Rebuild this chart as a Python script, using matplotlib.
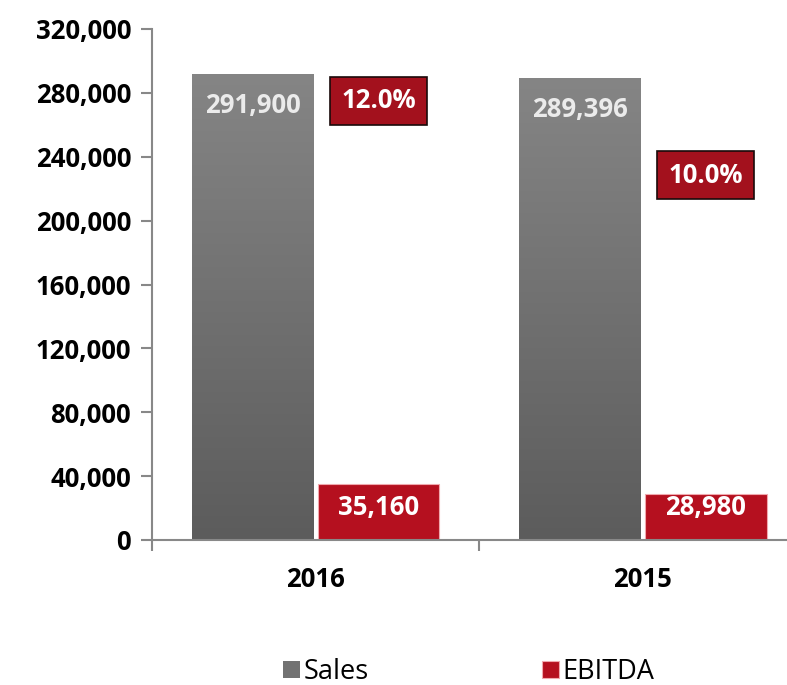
import matplotlib
matplotlib.use("Agg")
import matplotlib.pyplot as plt
import numpy as np

years = ["2016", "2015"]
sales = [291900, 289396]
ebitda = [35160, 28980]
margin_labels = ["12.0%", "10.0%"]
margin_pos = [275000, 228500]  # visual position of the margin labels on the value axis
yticks = [0, 40000, 80000, 120000, 160000, 200000, 240000, 280000, 320000]

plt.rcParams['font.family'] = ['Open Sans', 'DejaVu Sans']

W, H = 787, 685
fig = plt.figure(figsize=(W / 100, H / 100), dpi=100)
left, right, bottom, top = 152, 787, 540, 29
ax = fig.add_axes([left / W, 1 - bottom / H, (right - left) / W, (bottom - top) / H])

cat_px = 327.0
x = np.arange(len(years))
bw = 122 / cat_px
gap = 2 / cat_px

sales_bars = ax.bar(x - bw / 2 - gap, sales, bw, color='#727272', label='Sales', zorder=2)
ebitda_bars = ax.bar(x + bw / 2 + gap, ebitda, bw, color='#B5101F', edgecolor='#F0A8AE',
                     linewidth=0.8, label='EBITDA', zorder=2)

# gradient on sales bars
grad = np.linspace(0, 1, 256).reshape(-1, 1)
cmap = matplotlib.colors.LinearSegmentedColormap.from_list('g', ['#5C5C5C', '#858585'])
for b in sales_bars:
    bx, by = b.get_x(), b.get_y()
    im = ax.imshow(grad, extent=[bx, bx + b.get_width(), by, by + b.get_height()],
                   origin='lower', cmap=cmap, aspect='auto', zorder=2.5)
    im.set_clip_path(b)
ax.set_aspect('auto')

# labels
for i in range(len(years)):
    ax.text(x[i] - bw / 2 - gap, sales[i] - 20000, f"{sales[i]:,}", ha='center', va='center',
            fontsize=18.5, fontweight='bold', color='#EBEBEB', zorder=4)
    ax.text(x[i] + bw / 2 + gap, 20500, f"{ebitda[i]:,}", ha='center', va='center',
            fontsize=18.5, fontweight='bold', color='white', zorder=4)
    ax.text(x[i] + bw / 2 + gap, margin_pos[i], margin_labels[i], ha='center', va='center',
            fontsize=18.5, fontweight='bold', color='white', zorder=4,
            bbox=dict(boxstyle='square,pad=0.42', fc='#A3111D', ec='#1A0A0A', lw=1.2))

for s in ['top', 'right']:
    ax.spines[s].set_visible(False)
for s in ['left', 'bottom']:
    ax.spines[s].set_color('#888888')
    ax.spines[s].set_linewidth(1.5)

ax.set_yticks(yticks)
ax.set_yticklabels([f"{v:,}" for v in yticks], fontsize=18.5, fontweight='bold')
ax.tick_params(axis='y', direction='out', length=8, width=1.5, color='#888888', pad=7)

ax.set_xticks([-0.5, 0.5])
ax.set_xticklabels([])
ax.tick_params(axis='x', direction='out', length=8, width=1.5, color='#888888')
ax.set_xlim(-0.5, -0.5 + (right - left) / cat_px)
ax.set_ylim(0, 320000)
for i, y in enumerate(years):
    ax.text(x[i], -0.078, y, transform=ax.get_xaxis_transform(), ha='center', va='center',
            fontsize=18.5, fontweight='bold')

leg = fig.legend(handles=[sales_bars, ebitda_bars], labels=['Sales', 'EBITDA'],
                 loc='center', bbox_to_anchor=(469 / W, 1 - 672 / H), ncol=2, frameon=False,
                 fontsize=19.5, handlelength=0.6, handleheight=0.6, handletextpad=0.15,
                 columnspacing=6.4)

fig.savefig('out.png', dpi=100)
